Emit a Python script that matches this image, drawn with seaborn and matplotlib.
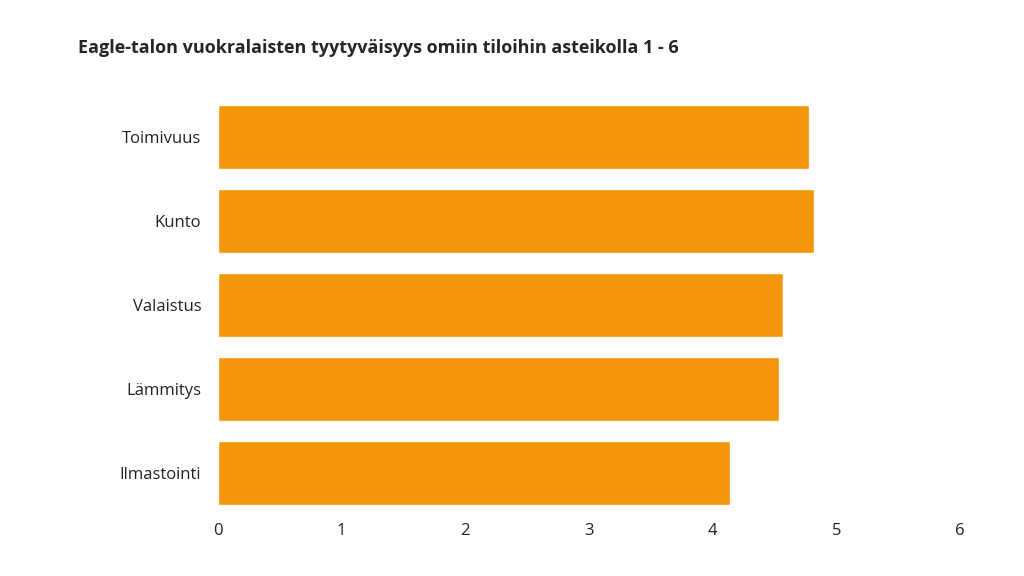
import matplotlib
matplotlib.use('Agg')
import matplotlib.pyplot as plt
import seaborn as sns
import pandas as pd

categories = ['Toimivuus', 'Kunto', 'Valaistus', 'Lämmitys', 'Ilmastointi']
values = [4.78, 4.82, 4.57, 4.54, 4.14]
ticks = [0, 1, 2, 3, 4, 5, 6]

sns.set_style('white')
plt.rcParams['font.family'] = ['Open Sans', 'DejaVu Sans']

df = pd.DataFrame({'category': categories, 'value': values})

fig = plt.figure(figsize=(10.24, 5.76), dpi=100)
ax = fig.add_axes([218 / 1024, 1 - 515 / 576, (960 - 218) / 1024, (515 - 95) / 576])
sns.barplot(data=df, x='value', y='category', color='#F39609', saturation=1,
            width=0.756, ax=ax)

ax.set_xlim(0, 6)
ax.set_xticks(ticks)
ax.set_xticklabels([str(t) for t in ticks], fontsize=12, color='#222222')
ax.tick_params(axis='y', labelsize=12, colors='#222222', length=0, pad=12)
ax.tick_params(axis='x', length=0, pad=6)
ax.set_xlabel('')
ax.set_ylabel('')
sns.despine(ax=ax, left=True, bottom=True)

fig.text(78 / 1024, 1 - 48 / 576, 'Eagle-talon vuokralaisten tyytyväisyys omiin tiloihin asteikolla 1 - 6',
         fontsize=13, fontweight='bold', va='center', ha='left')

fig.savefig('out.png', dpi=100)
